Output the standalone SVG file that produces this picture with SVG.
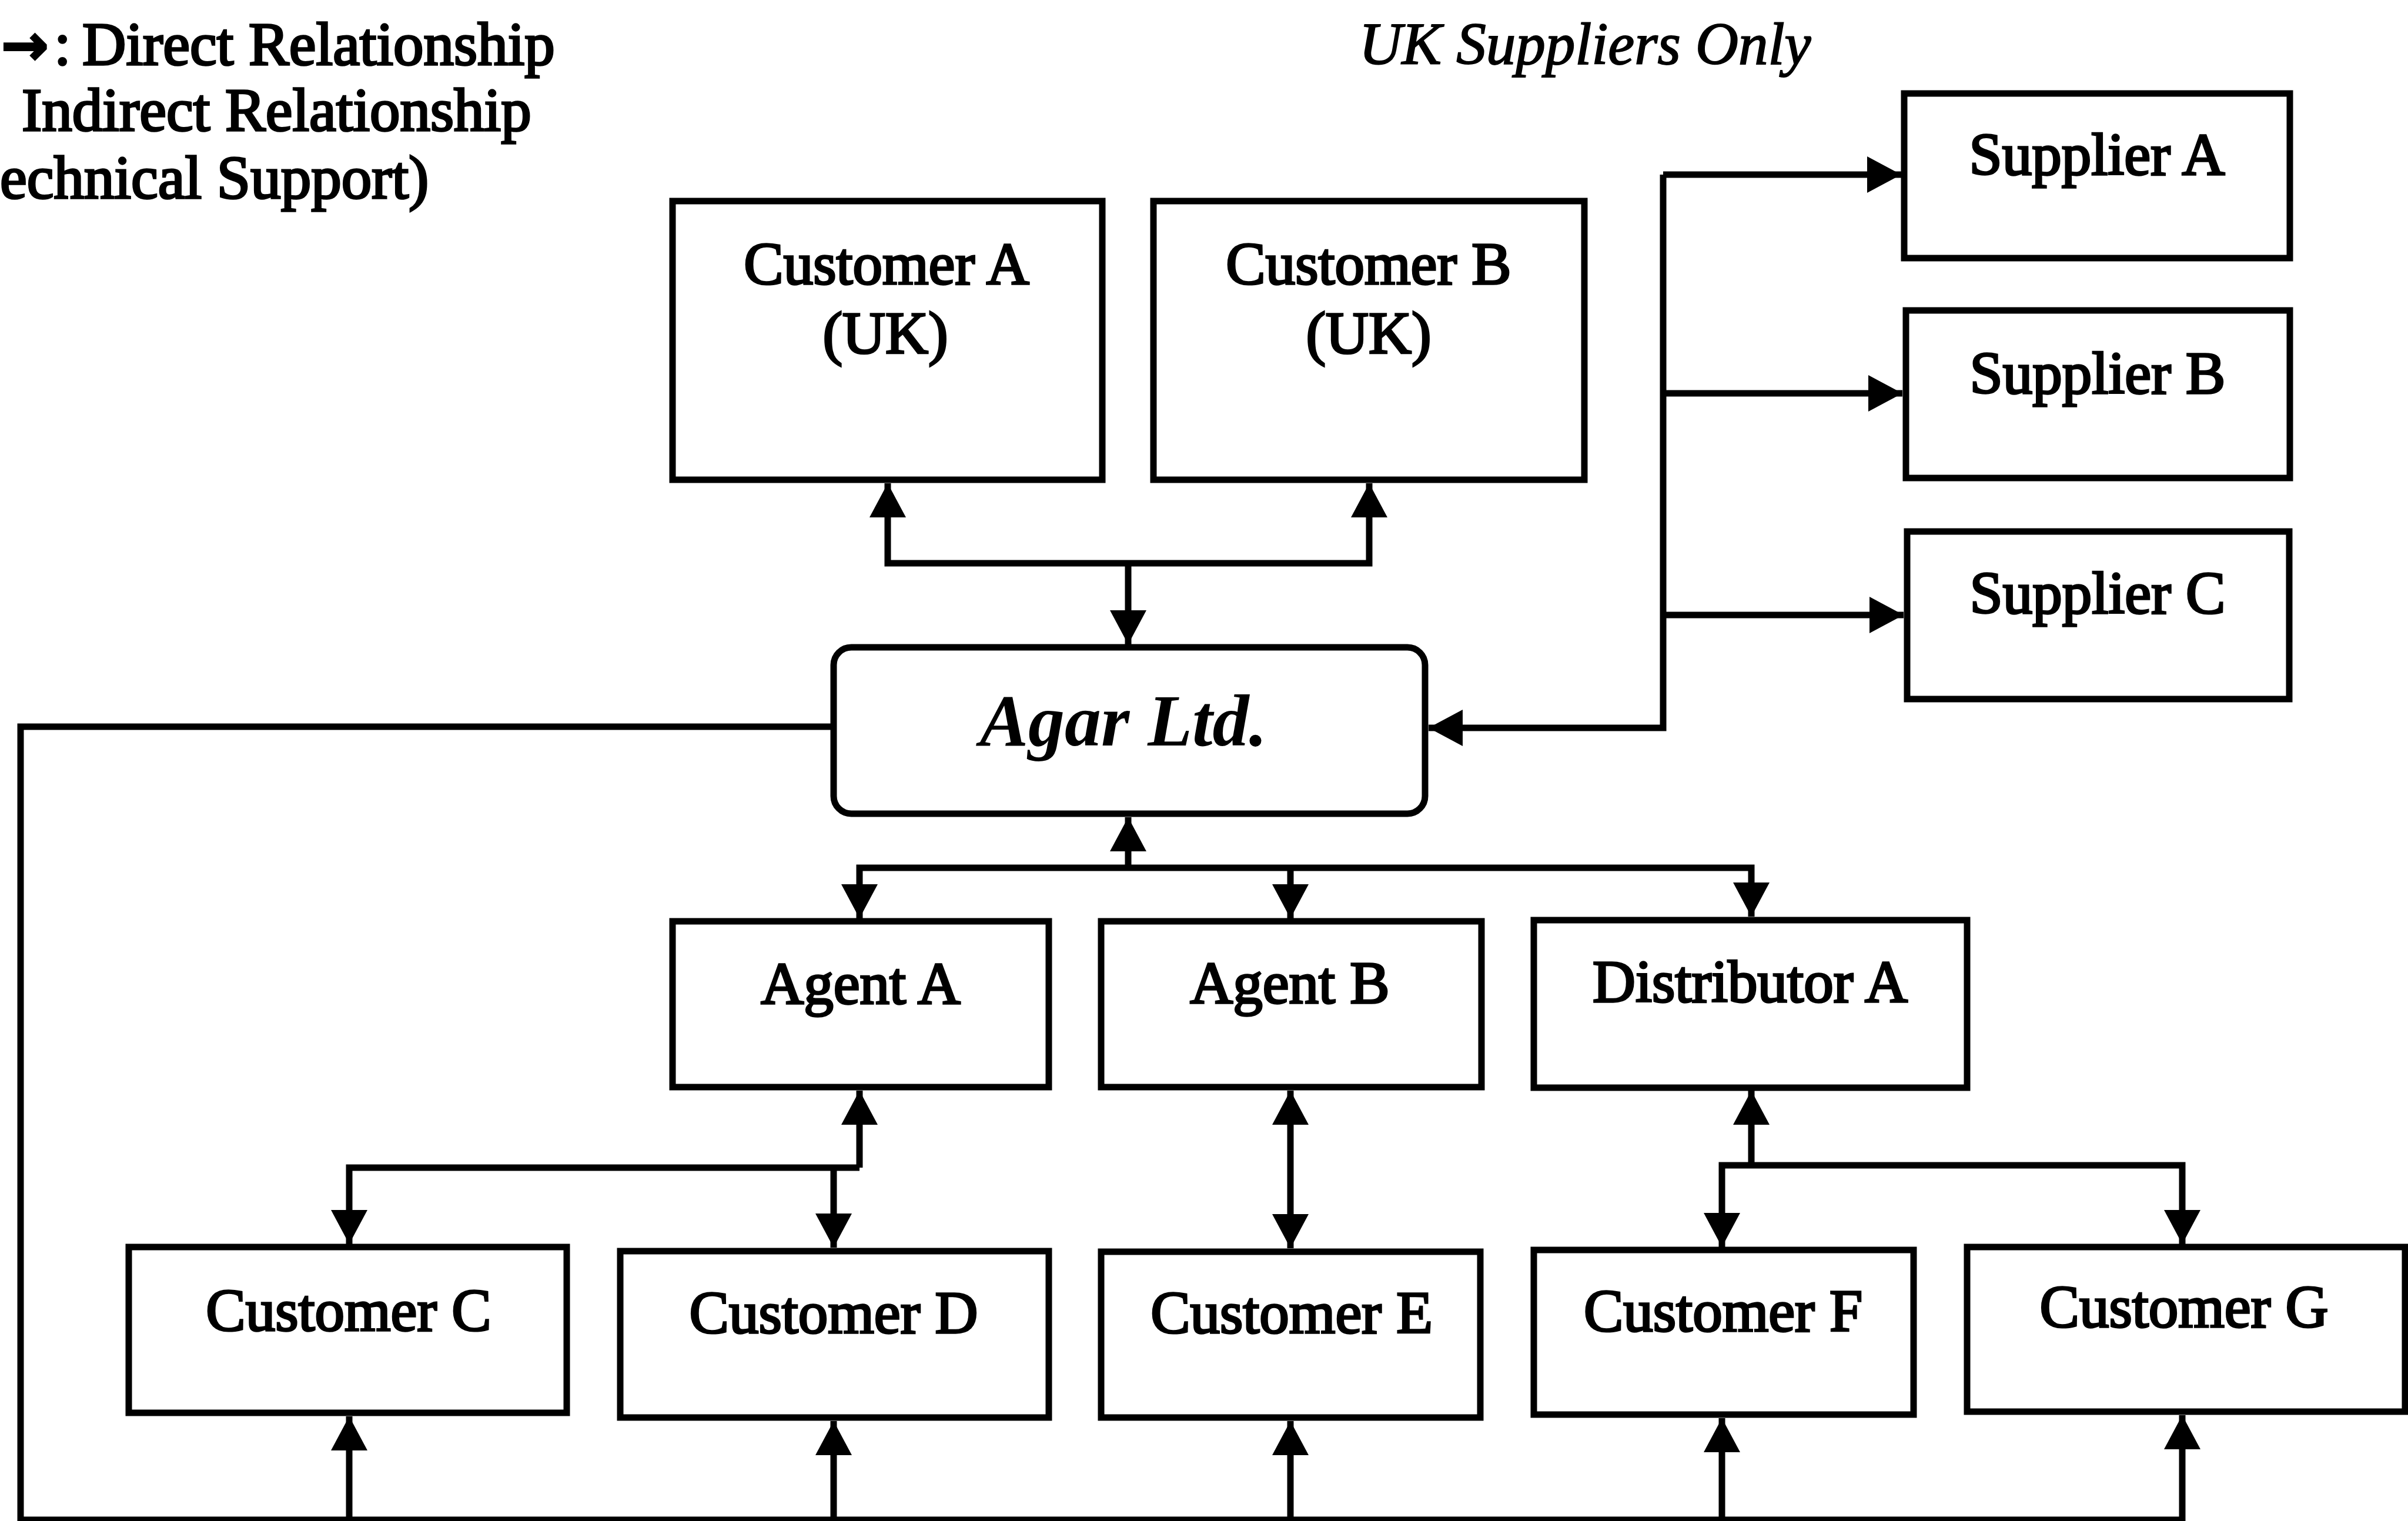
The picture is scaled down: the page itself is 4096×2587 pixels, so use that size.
<svg xmlns="http://www.w3.org/2000/svg" width="4096" height="2587" viewBox="0 0 4096 2587">
  <style>
    .box { fill: #fff; stroke: #000; stroke-width: 11; }
    .lbl { font-family: "Liberation Serif", "Times New Roman", serif; font-size: 101px; fill: #000; stroke: #000; stroke-width: 3.5; text-anchor: middle; }
    .legend { font-family: "Liberation Serif", "Times New Roman", serif; font-size: 103px; fill: #000; stroke: #000; stroke-width: 3.5; }
    .legend .sym { font-family: "DejaVu Sans", sans-serif; font-size: 96px; font-weight: bold; }
    .note { font-family: "Liberation Serif", "Times New Roman", serif; font-size: 101px; font-style: italic; fill: #000; stroke: #000; stroke-width: 2; text-anchor: middle; }
    .hub { font-family: "Liberation Serif", "Times New Roman", serif; font-size: 124px; font-weight: bold; font-style: italic; fill: #000; text-anchor: middle; }
    .wire { fill: none; stroke: #000; stroke-width: 11; stroke-linejoin: miter; }
  </style>
  <defs>
    <marker id="head" viewBox="0 0 58 62" refX="58" refY="31" markerWidth="58" markerHeight="62" markerUnits="userSpaceOnUse" orient="auto-start-reverse">
      <path d="M0 0 L58 31 L0 62 Z" fill="#000"/>
    </marker>
  </defs>
  <rect width="4096" height="2587" fill="#fff"/>

  <!-- legend and note -->
  <g id="legend" class="legend">
    <text y="110"><tspan class="sym" x="2">→</tspan><tspan x="92">:</tspan><tspan x="140">Direct Relationship</tspan></text>
    <text x="37" y="222">Indirect Relationship</text>
    <text x="0" y="337">echnical Support)</text>
  </g>
  <text id="note-uk-suppliers" class="note" x="2696" y="109">UK Suppliers Only</text>

  <!-- connectors -->
  <g id="connectors">
    <!-- UK customers and Agar -->
    <path class="wire" d="M1510 822 L1510 958 L2329 958 L2329 822" marker-start="url(#head)" marker-end="url(#head)"/>
    <path class="wire" d="M1919 958 L1919 1096" marker-end="url(#head)"/>
    <!-- supplier bus -->
    <path class="wire" d="M2829 297 L2829 1238 L2430 1238" marker-end="url(#head)"/>
    <path class="wire" d="M2829 297 L3234 297" marker-end="url(#head)"/>
    <path class="wire" d="M2829 669 L3236 669" marker-end="url(#head)"/>
    <path class="wire" d="M2829 1046 L3238 1046" marker-end="url(#head)"/>
    <!-- technical support loop -->
    <path class="wire" d="M1413 1236 L35 1236 L35 2585 L3712 2585"/>
    <path class="wire" d="M594 2587 L594 2409" marker-end="url(#head)"/>
    <path class="wire" d="M1418 2587 L1418 2417" marker-end="url(#head)"/>
    <path class="wire" d="M2195 2587 L2195 2417" marker-end="url(#head)"/>
    <path class="wire" d="M2929 2587 L2929 2412" marker-end="url(#head)"/>
    <path class="wire" d="M3712 2587 L3712 2407" marker-end="url(#head)"/>
    <!-- Agar to agents and distributor -->
    <path class="wire" d="M1919 1476 L1919 1390" marker-end="url(#head)"/>
    <path class="wire" d="M1462 1562 L1462 1476 L2979 1476 L2979 1559" marker-start="url(#head)" marker-end="url(#head)"/>
    <path class="wire" d="M2195 1476 L2195 1562" marker-end="url(#head)"/>
    <!-- Agent A to customers C and D -->
    <path class="wire" d="M1462 1986 L1462 1855" marker-end="url(#head)"/>
    <path class="wire" d="M594 2116 L594 1986 L1462 1986" marker-start="url(#head)"/>
    <path class="wire" d="M1418 1986 L1418 2122" marker-end="url(#head)"/>
    <!-- Agent B to customer E -->
    <path class="wire" d="M2195 1855 L2195 2123" marker-start="url(#head)" marker-end="url(#head)"/>
    <!-- Distributor A to customers F and G -->
    <path class="wire" d="M2979 1982 L2979 1855" marker-end="url(#head)"/>
    <path class="wire" d="M2929 2121 L2929 1982 L3712 1982 L3712 2116" marker-start="url(#head)" marker-end="url(#head)"/>
  </g>

  <!-- nodes -->
  <g id="customer-a">
    <rect class="box" x="1144" y="342" width="731" height="474"/>
    <text class="lbl" x="1508" y="483">Customer A</text>
    <text class="lbl" x="1506" y="601">(UK)</text>
  </g>
  <g id="customer-b">
    <rect class="box" x="1962" y="342" width="733" height="474"/>
    <text class="lbl" x="2328" y="483">Customer B</text>
    <text class="lbl" x="2328" y="601">(UK)</text>
  </g>
  <g id="supplier-a">
    <rect class="box" x="3239" y="159" width="656" height="280"/>
    <text class="lbl" x="3567" y="297">Supplier A</text>
  </g>
  <g id="supplier-b">
    <rect class="box" x="3242" y="528" width="653" height="285"/>
    <text class="lbl" x="3568" y="669">Supplier B</text>
  </g>
  <g id="supplier-c">
    <rect class="box" x="3244" y="904" width="650" height="285"/>
    <text class="lbl" x="3568" y="1043">Supplier C</text>
  </g>
  <g id="agar-ltd">
    <rect class="box" x="1418" y="1101" width="1006" height="283" rx="30" ry="30"/>
    <text class="hub" x="1911" y="1268">Agar Ltd.</text>
  </g>
  <g id="agent-a">
    <rect class="box" x="1144" y="1567" width="640" height="282"/>
    <text class="lbl" x="1464" y="1707">Agent A</text>
  </g>
  <g id="agent-b">
    <rect class="box" x="1873" y="1567" width="647" height="282"/>
    <text class="lbl" x="2194" y="1706">Agent B</text>
  </g>
  <g id="distributor-a">
    <rect class="box" x="2609" y="1565" width="737" height="285"/>
    <text class="lbl" x="2977" y="1704">Distributor A</text>
  </g>
  <g id="customer-c">
    <rect class="box" x="219" y="2121" width="745" height="282"/>
    <text class="lbl" x="593" y="2263">Customer C</text>
  </g>
  <g id="customer-d">
    <rect class="box" x="1055" y="2128" width="729" height="283"/>
    <text class="lbl" x="1418" y="2267">Customer D</text>
  </g>
  <g id="customer-e">
    <rect class="box" x="1873" y="2129" width="645" height="282"/>
    <text class="lbl" x="2197" y="2267">Customer E</text>
  </g>
  <g id="customer-f">
    <rect class="box" x="2609" y="2126" width="646" height="280"/>
    <text class="lbl" x="2931" y="2264">Customer F</text>
  </g>
  <g id="customer-g">
    <rect class="box" x="3346" y="2121" width="745" height="280"/>
    <text class="lbl" x="3715" y="2257">Customer G</text>
  </g>
</svg>
